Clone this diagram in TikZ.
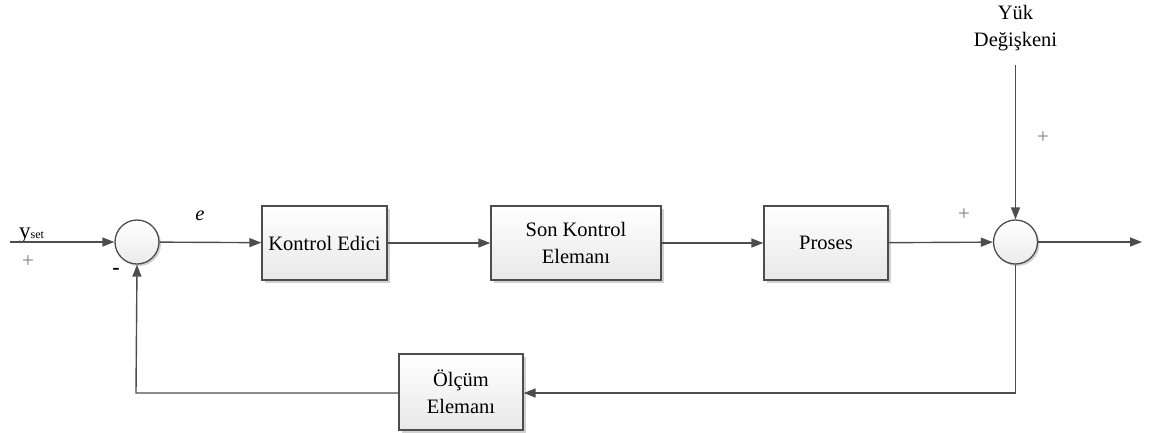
\documentclass[tikz,border=0pt]{standalone}
\usepackage{fontspec}
\setmainfont{Liberation Serif}
\usetikzlibrary{arrows.meta,shadows}
\definecolor{linegray}{HTML}{4D4D4D}
\definecolor{signgray}{HTML}{808080}
\tikzset{
  conn/.style={draw=linegray, line width=1.4pt},
  arr/.style={conn, -{Triangle[length=12pt,width=9pt]}},
  block/.style={rectangle, draw=linegray, line width=1.3pt,
    top color=white, bottom color=black!9,
    drop shadow={shadow xshift=2.5pt, shadow yshift=-2.5pt, opacity=0.18, fill=black},
    align=center, inner sep=0pt,
    font=\fontsize{20.5}{27}\selectfont},
  summer/.style={circle, draw=linegray, line width=1.3pt,
    top color=white, bottom color=black!8,
    drop shadow={shadow xshift=2pt, shadow yshift=-2pt, opacity=0.18, fill=black},
    minimum size=44pt, inner sep=0pt},
  lbl/.style={font=\fontsize{20.5}{27}\selectfont, align=center, inner sep=0pt},
  sign/.style={font=\fontsize{21}{21}\selectfont, text=signgray, inner sep=0pt},
}
\begin{document}
\begin{tikzpicture}[x=1pt, y=1pt]
\useasboundingbox (0,0) rectangle (1150,-432);

% summing junctions
\node[summer] (sumA) at (137,-242) {};
\node[summer] (sumB) at (1015.5,-242) {};

% forward path blocks
\node[block, minimum width=125pt, minimum height=74pt] (ctrl) at (324.5,-243) {Kontrol Edici};
\node[block, minimum width=170pt, minimum height=74pt] (fce) at (576,-243) {Son Kontrol\\Elemanı};
\node[block, minimum width=124pt, minimum height=74pt] (proc) at (826,-243) {Proses};

% feedback block
\node[block, minimum width=124pt, minimum height=76pt] (meas) at (461,-392) {Ölçüm\\Elemanı};

% free ends and corners
\coordinate (ysrc) at (10,-242);
\coordinate (yout) at (1142,-242);
\coordinate (ldsrc) at (1015.5,-65);
\coordinate (fbR) at (1015.5,-393);
\coordinate (fbL) at (136,-393);

% labels
\node[lbl, anchor=base west, font=\fontsize{23}{27}\selectfont] (yset) at (19,-238) {y{\fontsize{12}{12}\selectfont set}};
\node[sign] (pA) at (28,-262) {+};
\node[lbl, font=\fontsize{22}{22}\selectfont\bfseries] (mA) at (116,-271) {-};
\node[lbl, font=\fontsize{20.5}{27}\selectfont\itshape] (err) at (200,-216) {e};
\node[sign] (pB) at (964,-215) {+};
\node[sign] (pC) at (1043,-138) {+};
\node[lbl, anchor=north] (load) at (1015.5,-5) {Yük\\Değişkeni};

% forward path
\draw[arr] (ysrc) -- (sumA);
\draw[arr] (sumA) -- (ctrl);
\draw[arr] (ctrl) -- (fce);
\draw[arr] (fce) -- (proc);
\draw[arr] (proc) -- (sumB);
\draw[arr] (sumB) -- (yout);
\draw[arr] (ldsrc) -- (sumB);

% feedback path
\draw[arr] (sumB.south) -- (fbR) -- (meas.east |- fbR);
\draw[arr] (meas.west |- fbL) -- (fbL) -- (sumA.south);
\end{tikzpicture}
\end{document}
